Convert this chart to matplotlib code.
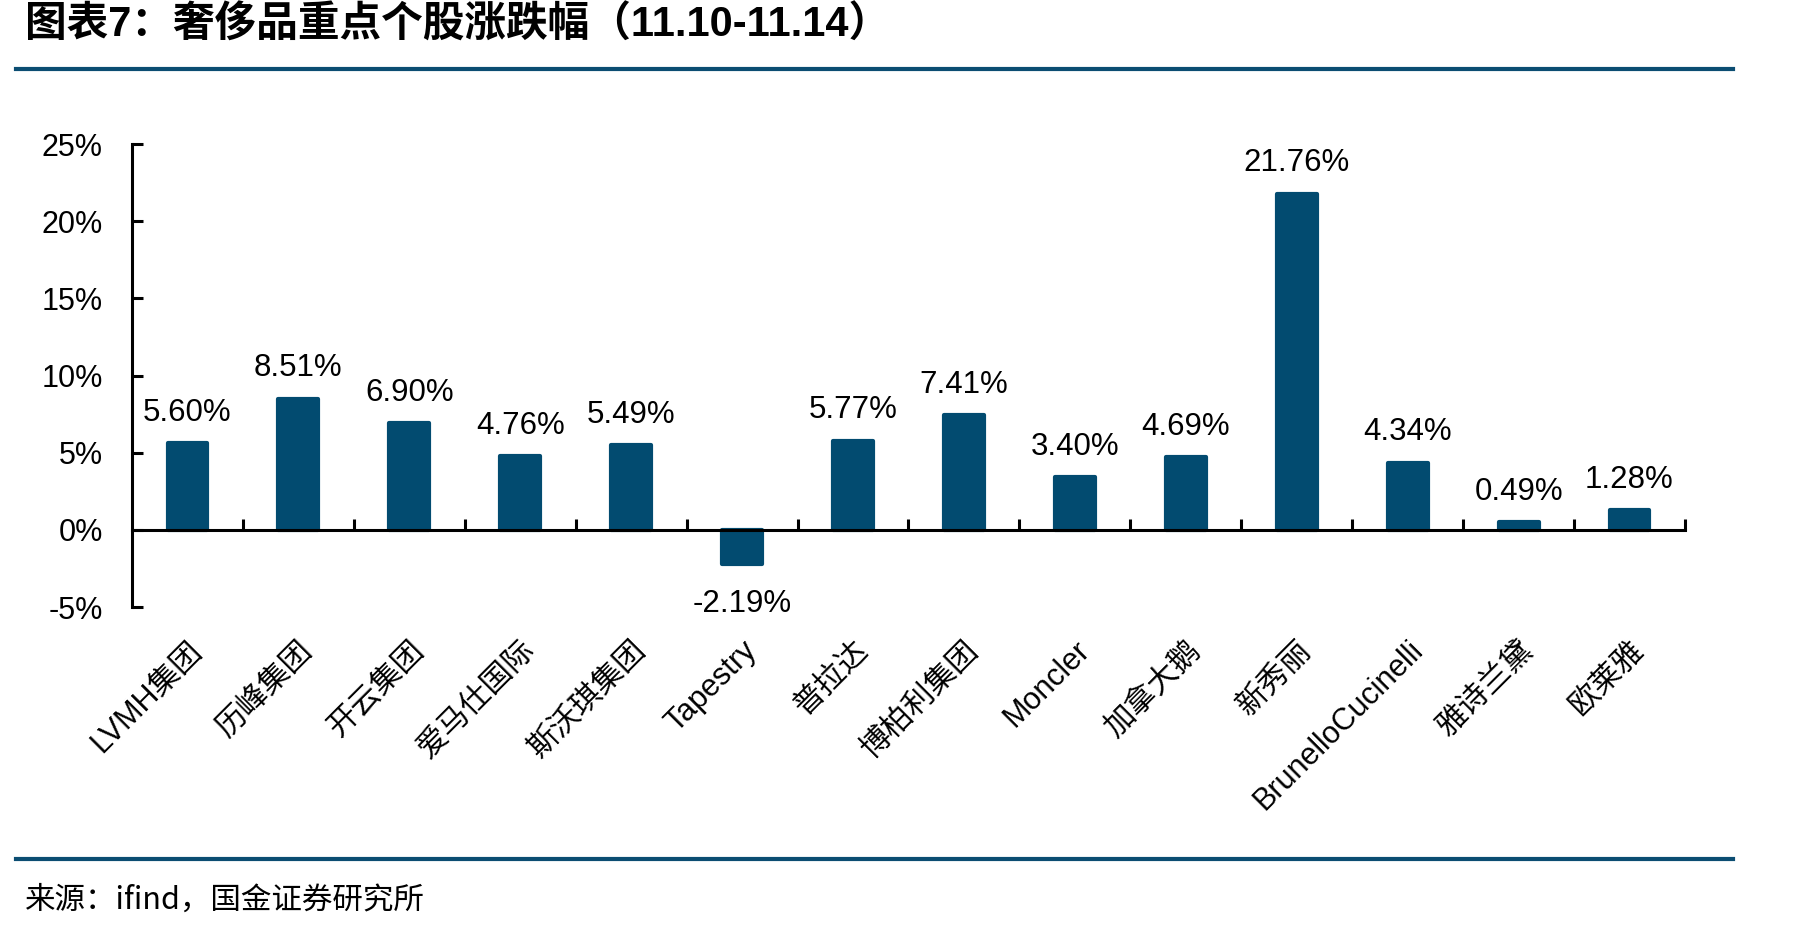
"""Luxury stocks weekly change bar chart."""

import matplotlib

matplotlib.use("Agg")
import matplotlib.pyplot as plt
from matplotlib.lines import Line2D
from matplotlib.ticker import FixedLocator, FuncFormatter

plt.rcParams["font.family"] = ["Liberation Sans", "Noto Sans CJK SC", "DejaVu Sans"]

names = [
    "LVMH集团", "历峰集团", "开云集团", "爱马仕国际", "斯沃琪集团", "Tapestry", "普拉达",
    "博柏利集团", "Moncler", "加拿大鹅", "新秀丽", "BrunelloCucinelli", "雅诗兰黛", "欧莱雅",
]
changes = [5.60, 8.51, 6.90, 4.76, 5.49, -2.19, 5.77, 7.41, 3.40, 4.69, 21.76, 4.34, 0.49, 1.28]
y_ticks = [-5, 0, 5, 10, 15, 20, 25]

title = "图表7：奢侈品重点个股涨跌幅（11.10-11.14）"
source = "来源：ifind，国金证券研究所"

BAR = "#024b70"
LINE = "#0b4d72"

fig = plt.figure(figsize=(18.11, 9.31), dpi=100)
ax = fig.add_axes([0.0729, 0.348, 0.8575, 0.4973])

x = list(range(len(names)))
ax.bar(x, changes, width=0.36, color=BAR, edgecolor=BAR, linewidth=3,
       joinstyle="round", zorder=2)

for xi, v in zip(x, changes):
    dy = 22 if v >= 0 else -29
    ax.annotate(f"{v:.2f}%", (xi, v), xytext=(0, dy), textcoords="offset points",
                ha="center", va="center", fontsize=22.5, color="black", zorder=3)

ax.set_xlim(-0.5, len(names) - 0.5)
ax.set_ylim(-5, 25)
ax.yaxis.set_major_locator(FixedLocator(y_ticks))
ax.yaxis.set_major_formatter(FuncFormatter(lambda v, _: f"{v:.0f}%"))

for side in ("top", "right"):
    ax.spines[side].set_visible(False)
ax.spines["left"].set_linewidth(2.2)
ax.spines["bottom"].set_position(("data", 0))
ax.spines["bottom"].set_linewidth(2.2)
ax.spines["bottom"].set_zorder(4)

ax.tick_params(axis="y", direction="in", length=8, width=2.2, labelsize=22, pad=21)
ax.set_xticks(x)
ax.set_xticklabels(names, rotation=45, ha="right", rotation_mode="anchor", fontsize=22)
ax.tick_params(axis="x", which="major", length=0, pad=76)
ax.set_xticks([i + 0.5 for i in x], minor=True)
ax.tick_params(axis="x", which="minor", direction="in", length=8, width=2.2)

fig.text(0.014, 0.973, title, fontsize=30, fontweight="bold", ha="left", va="center")
fig.add_artist(Line2D([0.009, 0.957], [0.926, 0.926], color=LINE, linewidth=3))
fig.add_artist(Line2D([0.009, 0.957], [0.077, 0.077], color=LINE, linewidth=3))
fig.text(0.014, 0.033, source, fontsize=22, ha="left", va="center",
         family=["Noto Sans CJK SC", "DejaVu Sans"])

fig.savefig("out.png", dpi=100)
